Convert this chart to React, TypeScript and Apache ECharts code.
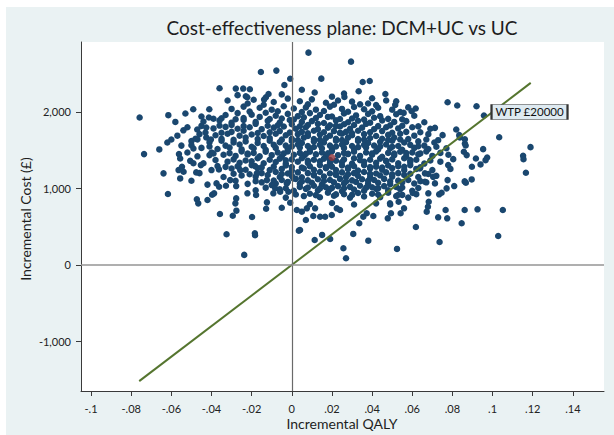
import React, { useEffect, useRef } from "react";
import * as echarts from "echarts";

// ---------- data ----------
const xTickValues = [-0.1, -0.08, -0.06, -0.04, -0.02, 0, 0.02, 0.04, 0.06, 0.08, 0.1, 0.12, 0.14];
const yTickValues = [-1000, 0, 1000, 2000];
const wtpQalyEnds = [-0.076, 0.119];
const wtpPerQaly = 20000;
const meanPoint: [number, number] = [0.02, 1405];

const fringePoints: [number, number][] = [
  [-0.0154,2523],[-0.0077,2541],[-0.0008,2434],[-0.0037,2353],[-0.036,2310],[-0.0279,2306],[-0.0242,2306],[-0.0209,2297],[-0.0229,2205],[-0.0222,2192],[-0.0138,2162],[-0.0116,2235],[-0.0129,2192],[-0.0758,1927],[-0.0615,1958],[-0.0491,2036],[-0.0411,2036],[-0.0413,1927],[-0.035,1918],[-0.0471,1771],[-0.0426,1797],[-0.0736,1449],[-0.05,1566],[-0.049,1523],[-0.0426,1667],[-0.0403,1640],[-0.0562,1449],[-0.0556,1392],[-0.0506,1361],[-0.041,1436],[-0.039,1458],
  [0.0083,2776],[0.0295,2658],[0.0147,2436],[0.0353,2392],[0.0388,2405],[0.0114,2254],[0.0333,2271],[0.026,2241],[0.0262,2196],[0.0466,2235],[0.0776,2127],[0.0824,2084],[0.092,2075],[0.0515,2092],[0.0617,2045],[0.0597,2010],[0.0557,1988],[0.0713,1792],[0.0819,1771],[0.0751,1697],[0.0729,1631],[0.0834,1697],[0.0862,1588],[0.0917,1392],[0.0897,1283],[0.0804,1383],
  [0.0957,1954],[0.1033,1670],[0.1189,1540],[0.1152,1426],[0.1154,1383],[0.0953,1514],[0.0973,1405],[0.0965,1370],[0.094,1314],[0.0866,1562],[0.0857,1479],[0.0871,1436],[0.0837,1667],[0.0862,1644],
  [0.1166,1205],[0.0861,1092],[0.0867,1074],[0.0896,1118],[0.0861,718],[0.0925,727],[0.1051,718],[0.0846,544],[0.1028,378],
  [-0.0639,1197],[-0.0617,927],[-0.0556,1131],[-0.0564,1240],[-0.0539,1218],[-0.0547,1283],[-0.0476,1210],[-0.0453,1305],[-0.0473,857],[-0.0466,805],[-0.042,848],[-0.0397,917],[-0.0387,936],[-0.0358,666],[-0.0294,643],[-0.0276,709],[-0.0281,805],[-0.0277,870],[-0.0325,401],[-0.0184,414],[-0.0183,388],[-0.0237,131],[-0.0198,626],[-0.0128,735],[-0.005,748],[0.0035,448],[-0.0375,1066],[-0.0362,1022],[-0.0328,1035],[-0.0277,1031],[-0.0221,936],[-0.0178,914],[-0.0124,818],[-0.0008,813],[0.0025,718],[-0.037,1292],[-0.0363,1249],[-0.0266,1283],[-0.0257,1240],[-0.0183,1292],[-0.0174,1197],[-0.0307,1109],[-0.0124,1109],[-0.01,1044],[-0.0083,1001],[-0.0092,936],[-0.0058,957],[-0.0025,1066],[-0.0017,957],[0.0008,1131],
  [0.0041,457],[0.0114,326],[0.0151,392],[0.0191,339],[0.0257,218],[0.027,87],[0.0306,405],[0.0381,317],[0.0524,209],[0.0736,300],[0.0618,496],[0.0766,718],[0.0774,609],[0.0729,622],[0.0478,609],[0.0494,675],[0.0406,639],[0.0336,544],[0.0356,630],[0.0373,675],[0.0542,675],[0.0559,740],[0.0672,696],[0.0678,761],[0.0682,826],[0.0603,940],[0.0489,805],[0.0532,826],[0.0529,914],[0.007,587],[0.0107,639],[0.0141,630],[0.0166,630],[0.0199,653],[0.0224,740],[0.024,718],[0.005,696],[0.0075,740],[0.0116,740],[0.0704,1152],[0.0713,1066],[0.0734,923],[0.0746,944],[0.0776,1109],[0.0809,1031],[0.0771,1001],[0.0779,1305],[0.0663,1087],[0.0663,1197],[0.0638,1262],[0.068,936],
  [-0.058,1870],[-0.054,1760],[-0.06,1640],[-0.055,1560],[-0.048,1650],[-0.052,1470],[-0.049,1330],[-0.046,1200],[-0.05,1100],[-0.042,1050],[-0.053,1980],[-0.045,1940],
  [-0.032,2150],[-0.005,2230],[0.02,2200],[0.005,2290],[0.04,2180],[0.052,2140],[-0.027,2220]
];

const cloudUpper: [number, number][] = [
  [-0.019,2160],[-0.009,2130],[-0.002,2175],[0.004,2140],[0.01,2165],[0.017,2120],[0.023,2150],[0.03,2135],[0.038,2110],[0.047,2150],
  [-0.03,2040],[-0.024,2070],[-0.016,2055],[-0.01,2030],[-0.004,2075],[0.001,2045],[0.007,2060],[0.012,2030],[0.019,2070],[0.025,2040],[0.031,2065],[0.036,2035],[0.043,2055],[0.05,2030],[0.058,2060],
  [-0.033,1960],[-0.027,1985],[-0.02,1965],[-0.013,1990],[-0.008,1950],[-0.002,1975],[0.003,1945],[0.009,1985],[0.014,1960],[0.02,1940],[0.026,1980],[0.032,1955],[0.038,1975],[0.044,1945],[0.052,1970],[0.061,1950],
  [-0.044,1875],[-0.036,1890],[-0.03,1860],[-0.024,1895],[-0.018,1870],[-0.012,1885],[-0.006,1860],[-0.001,1895],[0.005,1870],[0.01,1880],[0.016,1855],[0.022,1890],[0.028,1865],[0.033,1885],[0.039,1860],[0.045,1890],[0.051,1870],[0.057,1880],[0.066,1865],
  [-0.052,1800],[-0.039,1785],[-0.033,1805],[-0.027,1780],[-0.021,1800],[-0.015,1775],[-0.009,1795],[-0.004,1810],[0.002,1780],[0.007,1800],[0.013,1775],[0.018,1795],[0.024,1810],[0.029,1780],[0.035,1795],[0.041,1775],[0.047,1800],[0.053,1785],[0.06,1800],[0.069,1780],
  [-0.057,1690],[-0.046,1710],[-0.038,1695],[-0.032,1715],[-0.026,1690],[-0.02,1705],[-0.014,1685],[-0.008,1715],[-0.003,1695],[0.003,1710],[0.008,1685],[0.014,1705],[0.019,1690],[0.025,1715],[0.03,1695],[0.036,1710],[0.042,1685],[0.048,1700],[0.054,1715],[0.061,1690],[0.068,1710],
  [-0.062,1600],[-0.05,1620],[-0.041,1605],[-0.035,1625],[-0.029,1600],[-0.023,1615],[-0.017,1595],[-0.011,1625],[-0.006,1605],[0.0,1620],[0.005,1595],[0.011,1615],[0.016,1600],[0.022,1625],[0.027,1605],[0.033,1620],[0.038,1595],[0.044,1610],[0.05,1625],[0.056,1600],[0.063,1615],[0.071,1600]
];

const cloudLower: [number, number][] = [
  [-0.066,1510],[-0.045,1530],[-0.037,1515],[-0.031,1535],[-0.025,1510],[-0.019,1525],[-0.013,1505],[-0.008,1530],[-0.002,1515],[0.004,1535],[0.009,1510],[0.015,1525],[0.02,1505],[0.026,1530],[0.031,1515],[0.037,1535],[0.043,1510],[0.049,1525],[0.055,1505],[0.061,1530],[0.068,1515],[0.077,1525],
  [-0.047,1420],[-0.034,1440],[-0.028,1425],[-0.022,1445],[-0.016,1420],[-0.01,1435],[-0.005,1415],[0.001,1440],[0.006,1425],[0.012,1445],[0.017,1420],[0.023,1435],[0.028,1450],[0.034,1425],[0.04,1440],[0.045,1415],[0.051,1435],[0.057,1420],[0.063,1445],[0.07,1425],[0.078,1440],
  [-0.044,1330],[-0.032,1350],[-0.026,1335],[-0.02,1355],[-0.014,1330],[-0.008,1345],[-0.003,1325],[0.003,1350],[0.008,1335],[0.014,1355],[0.019,1330],[0.025,1345],[0.03,1325],[0.036,1350],[0.042,1335],[0.047,1355],[0.053,1330],[0.059,1345],[0.066,1325],[0.074,1350],
  [-0.04,1240],[-0.03,1260],[-0.023,1245],[-0.017,1265],[-0.011,1240],[-0.005,1255],[0.0,1235],[0.006,1260],[0.011,1245],[0.017,1265],[0.022,1240],[0.028,1255],[0.033,1235],[0.039,1260],[0.045,1245],[0.05,1265],[0.056,1240],[0.062,1255],[0.07,1240],[0.079,1255],
  [-0.034,1150],[-0.025,1170],[-0.018,1155],[-0.012,1175],[-0.006,1150],[0.0,1165],[0.005,1145],[0.011,1170],[0.016,1155],[0.022,1175],[0.027,1150],[0.033,1165],[0.039,1145],[0.044,1170],[0.05,1155],[0.056,1175],[0.063,1150],[0.072,1165],
  [-0.022,1060],[-0.015,1080],[-0.008,1065],[-0.002,1085],[0.004,1060],[0.01,1075],[0.015,1055],[0.021,1080],[0.026,1065],[0.032,1085],[0.038,1060],[0.043,1075],[0.049,1055],[0.055,1080],[0.061,1065],[0.067,1080],
  [-0.018,975],[-0.006,990],[0.001,970],[0.007,995],[0.013,975],[0.019,990],[0.025,965],[0.031,985],[0.036,970],[0.042,995],[0.048,975],[0.054,990],[0.06,970],
  [-0.003,880],[0.006,900],[0.014,885],[0.021,905],[0.029,880],[0.036,895],[0.044,885],[0.052,900],[0.058,880],
  [0.009,795],[0.02,810],[0.031,790],[0.042,805],[0.049,790]
];

const cloudFill: [number, number][] = [
  [-0.024,1920],[-0.016,1935],[-0.005,1915],[0.006,1930],[0.012,1920],[0.018,1935],[0.03,1915],[0.041,1925],[0.048,1910],
  [-0.03,1830],[-0.018,1845],[-0.007,1825],[0.0,1840],[0.008,1830],[0.013,1845],[0.019,1825],[0.026,1840],[0.031,1830],[0.037,1845],[0.049,1825],
  [-0.03,1740],[-0.024,1755],[-0.011,1735],[-0.006,1750],[0.005,1740],[0.011,1755],[0.016,1735],[0.021,1750],[0.027,1740],[0.033,1755],[0.039,1735],[0.045,1750],[0.057,1740],
  [-0.035,1650],[-0.023,1665],[-0.017,1645],[-0.011,1660],[0.0,1650],[0.006,1665],[0.011,1645],[0.017,1660],[0.022,1650],[0.028,1665],[0.033,1645],[0.039,1660],[0.045,1650],[0.051,1665],[0.058,1645],
  [-0.033,1560],[-0.026,1575],[-0.014,1555],[-0.009,1570],[-0.003,1560],[0.003,1575],[0.008,1555],[0.014,1570],[0.019,1560],[0.025,1575],[0.03,1555],[0.036,1570],[0.041,1560],[0.047,1575],[0.053,1555],[0.059,1570],[0.066,1560],
  [-0.04,1470],[-0.025,1485],[-0.019,1465],[-0.013,1480],[-0.007,1470],[-0.002,1485],[0.004,1465],[0.009,1480],[0.015,1470],[0.02,1485],[0.026,1465],[0.031,1480],[0.037,1470],[0.042,1485],[0.048,1465],[0.054,1480],[0.06,1470],[0.067,1485],
  [-0.029,1380],[-0.017,1395],[-0.011,1375],[-0.006,1390],[0.0,1380],[0.005,1395],[0.011,1375],[0.016,1390],[0.026,1380],[0.031,1395],[0.039,1375],[0.044,1390],[0.05,1380],[0.056,1395],[0.062,1375],
  [-0.027,1290],[-0.02,1305],[-0.009,1285],[-0.003,1300],[0.009,1290],[0.014,1305],[0.02,1285],[0.025,1300],[0.031,1290],[0.036,1305],[0.042,1285],[0.048,1300],[0.053,1290],[0.059,1305],
  [-0.015,1200],[-0.008,1215],[-0.002,1195],[0.003,1210],[0.008,1200],[0.014,1215],[0.019,1195],[0.025,1210],[0.031,1200],[0.036,1215],[0.042,1195],[0.047,1210],[0.053,1200],
  [-0.005,1110],[0.002,1125],[0.008,1105],[0.013,1120],[0.019,1110],[0.024,1125],[0.03,1105],[0.035,1120],[0.041,1110],[0.046,1125],[0.058,1110],
  [0.004,1020],[0.011,1035],[0.017,1015],[0.023,1030],[0.029,1020],[0.034,1035],[0.04,1015],[0.046,1030],[0.052,1020],
  [0.009,930],[0.018,945],[0.026,925],[0.033,940],[0.04,930],[0.048,945]
];

const cloudCore: [number, number][] = [
  [-0.022,2110],[-0.014,2095],[0.008,2100],[0.021,2095],[0.034,2100],[0.042,2090],
  [-0.021,2005],[-0.007,2010],[0.005,2000],[0.016,2012],[0.028,2003],[0.04,2008],[0.054,2000],
  [-0.039,1912],[-0.028,1905],[-0.011,1908],[0.001,1902],[0.024,1908],[0.036,1900],[0.055,1905],
  [-0.045,1818],[-0.036,1822],[-0.024,1815],[-0.012,1820],[0.004,1814],[0.022,1818],[0.043,1815],[0.055,1820],[0.063,1812],
  [-0.043,1732],[-0.035,1728],[-0.017,1725],[-0.001,1730],[0.008,1722],[0.024,1726],[0.03,1722],[0.05,1728],[0.064,1734],
  [-0.047,1642],[-0.029,1635],[-0.005,1638],[0.003,1632],[0.014,1636],[0.025,1632],[0.036,1640],[0.048,1635],[0.054,1640],[0.067,1640],
  [-0.041,1548],[-0.02,1545],[0.0,1550],[0.011,1542],[0.022,1548],[0.033,1540],[0.044,1550],[0.05,1545],[0.063,1552],[0.072,1545],
  [-0.031,1462],[-0.022,1455],[-0.004,1458],[0.007,1452],[0.018,1460],[0.028,1452],[0.04,1458],[0.051,1455],[0.057,1462],[0.064,1458],[0.074,1465],
  [-0.038,1372],[-0.023,1365],[-0.003,1368],[0.008,1362],[0.019,1370],[0.022,1362],[0.034,1368],[0.047,1362],[0.059,1370],[0.069,1365],
  [-0.033,1282],[-0.015,1276],[0.0,1280],[0.005,1272],[0.017,1278],[0.028,1272],[0.039,1280],[0.045,1274],[0.056,1282],[0.064,1276],
  [-0.029,1192],[-0.021,1185],[-0.005,1188],[0.011,1182],[0.022,1190],[0.028,1184],[0.039,1190],[0.05,1184],[0.059,1192],[0.068,1188],
  [-0.028,1100],[-0.018,1095],[-0.009,1102],[0.005,1092],[0.016,1098],[0.027,1092],[0.038,1100],[0.049,1094],[0.053,1102],[0.064,1096],
  [-0.013,1010],[-0.003,1002],[0.008,1012],[0.014,1000],[0.02,1008],[0.026,1002],[0.037,1010],[0.043,1004],[0.055,1012],[0.063,1006],
  [0.002,920],[0.012,912],[0.022,922],[0.03,915],[0.043,920],[0.055,915],[0.062,925]
];

// ---------- helpers ----------
const fmtQaly = (v: number) => {
  if (Math.abs(v) < 1e-9) return "0";
  return String(Number(v.toFixed(2))).replace(/^(-?)0\./, "$1.");
};
const fmtCost = (v: number) => Math.round(v).toLocaleString("en-US");

const FONT = "Lato";
const NAVY = "#1a476f";
const MAROON = "#90353b";
const GREEN = "#55752f";
const AXIS = "#3a3a3a";

export default function App() {
  const ref = useRef<HTMLDivElement>(null);

  useEffect(() => {
    if (!ref.current) return;
    const chart = echarts.init(ref.current, undefined, { renderer: "svg" });
    const cloud = [...cloudUpper, ...cloudLower, ...cloudFill, ...cloudCore, ...fringePoints];
    const wtpLine = wtpQalyEnds.map((q) => [q, q * wtpPerQaly]);

    chart.setOption({
      animation: false,
      backgroundColor: "transparent",
      textStyle: { fontFamily: FONT },
      grid: { left: 81, top: 42, right: 10, bottom: 44, show: true, backgroundColor: "#ffffff", borderWidth: 0 },
      xAxis: {
        type: "value",
        min: -0.105,
        max: 0.1555,
        splitLine: { show: false },
        axisLine: { show: true, onZero: false, lineStyle: { color: AXIS, width: 1 } },
        axisTick: { show: true, length: 5, customValues: xTickValues, lineStyle: { color: AXIS } },
        axisLabel: { customValues: xTickValues, formatter: fmtQaly, fontSize: 11, color: "#222", margin: 12, fontFamily: FONT },
      },
      yAxis: {
        type: "value",
        min: -1649,
        max: 2915,
        splitLine: { show: false },
        axisLine: { show: true, onZero: false, lineStyle: { color: AXIS, width: 1 } },
        axisTick: { show: true, length: 5, customValues: yTickValues, lineStyle: { color: AXIS } },
        axisLabel: { customValues: yTickValues, formatter: fmtCost, fontSize: 11, color: "#222", margin: 10, fontFamily: FONT },
      },
      graphic: [
        {
          type: "text", x: 342, y: 27, z: 10,
          style: { text: "Cost-effectiveness plane: DCM+UC vs UC", fontSize: 19, fontFamily: FONT, fill: "#1e1e1e", align: "center", verticalAlign: "middle" },
        },
        {
          type: "text", x: 342, y: 423, z: 10,
          style: { text: "Incremental QALY", fontSize: 14, fontFamily: FONT, fill: "#1e1e1e", align: "center", verticalAlign: "middle" },
        },
        {
          type: "text", x: 25, y: 219, rotation: Math.PI / 2, z: 10,
          style: { text: "Incremental Cost (£)", fontSize: 14, fontFamily: FONT, fill: "#1e1e1e", align: "center", verticalAlign: "middle" },
        },
      ],
      series: [
        {
          type: "scatter",
          data: cloud,
          symbol: "circle",
          symbolSize: 6.5,
          itemStyle: { color: NAVY, opacity: 1 },
          silent: true,
          markLine: {
            silent: true,
            symbol: "none",
            label: { show: false },
            data: [
              { xAxis: 0, lineStyle: { color: "#6a6a6a", width: 1.2, type: "solid" } },
              { yAxis: 0, lineStyle: { color: "#959595", width: 1.6, type: "solid" } },
            ],
          },
        },
        {
          type: "line",
          data: wtpLine,
          symbol: "none",
          lineStyle: { color: GREEN, width: 2 },
          silent: true,
          z: 3,
          markPoint: {
            silent: true,
            data: [
              {
                coord: [0.1184, 2000],
                symbol: "rect",
                symbolSize: [76, 15],
                itemStyle: { color: "#deeaf1", borderColor: "#333", borderWidth: 1 },
                label: { show: true, formatter: "WTP £20000", color: "#111", fontSize: 11.5, fontFamily: FONT },
              },
            ],
          },
        },
        {
          type: "scatter",
          data: [meanPoint],
          symbolSize: 7,
          itemStyle: { color: MAROON },
          silent: true,
          z: 4,
        },
      ],
    });
    return () => chart.dispose();
  }, []);

  return (
    <div style={{ position: "absolute", left: 0, top: 0, width: 614, height: 435, background: "#ffffff" }}>
      <div style={{ position: "absolute", left: 6, top: 7, width: 608, height: 428, background: "#eaf2f3" }} />
      <div ref={ref} style={{ position: "absolute", left: 0, top: 0, width: 614, height: 435 }} />
    </div>
  );
}
